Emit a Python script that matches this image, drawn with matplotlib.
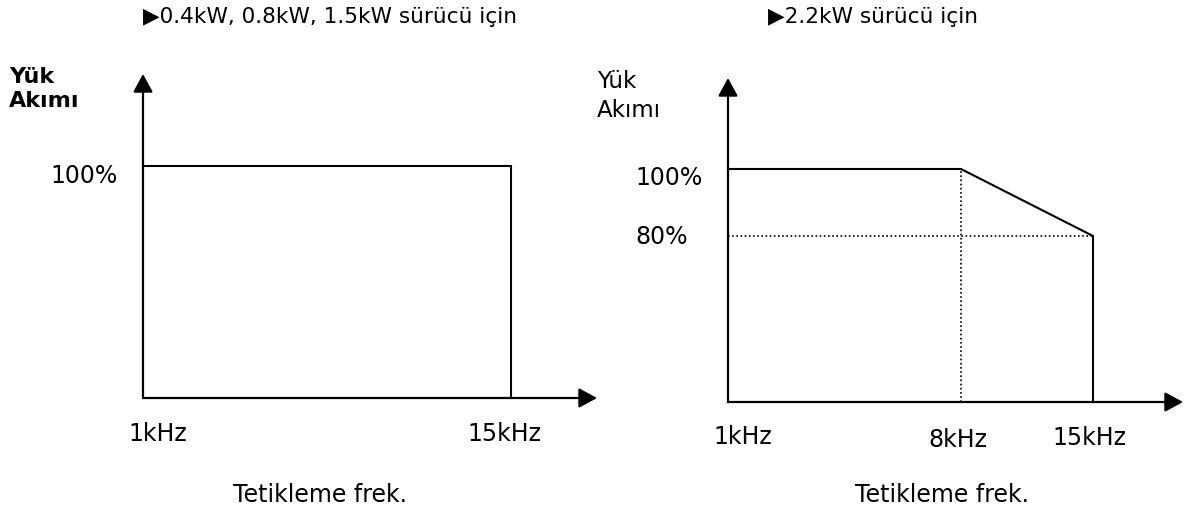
import numpy as np
import matplotlib.pyplot as plt

# Başlıklar
baslik_sol = '▶0.4kW, 0.8kW, 1.5kW sürücü için'
baslik_sag = '▶2.2kW sürücü için'

# Tetikleme frekansı (kHz) ve yük akımı (%)
frek_sol = [1, 15]
akim_sol = [100, 100]
frek_sag = [1, 8, 15]
akim_sag = [100, 100, 80]

etiket_sol = ['1kHz', '15kHz']
etiket_sag = ['1kHz', '8kHz', '15kHz']
yuzde_sol = [100]
yuzde_sag = [100, 80]

W, H = 1193, 524
fig = plt.figure(figsize=(W / 100, H / 100), dpi=100)
plt.rcParams['font.family'] = 'DejaVu Sans'
fs = 17
ok = dict(arrowstyle='-|>,head_length=0.55,head_width=0.3', color='black',
          lw=1.6, shrinkA=0, shrinkB=0, mutation_scale=20)


def eksen_kur(x0, x1, ytop, ybot):
    ax = fig.add_axes([x0 / W, 1 - ybot / H, (x1 - x0) / W, (ybot - ytop) / H])
    for s in ax.spines.values():
        s.set_visible(False)
    ax.set_xticks([])
    ax.set_yticks([])
    ax.patch.set_alpha(0)
    return ax


def oklar(ax, tipx, tipy):
    ax.annotate('', xy=(tipx, 0), xytext=(0, 0), xycoords='axes fraction',
                arrowprops=ok, annotation_clip=False)
    ax.annotate('', xy=(0, tipy), xytext=(0, 0), xycoords='axes fraction',
                arrowprops=ok, annotation_clip=False)


# ---- sol grafik ----
ax1 = eksen_kur(143, 511, 166, 398)
ax1.set_xlim(frek_sol[0], frek_sol[-1])
ax1.set_ylim(0, 100)
oklar(ax1, (597 - 143) / (511 - 143), (398 - 74) / (398 - 166))
ax1.plot(frek_sol + [frek_sol[-1]], akim_sol + [0], color='black', lw=1.5,
         clip_on=False, solid_joinstyle='miter')

for f, lbl, dx in zip(frek_sol, etiket_sol, [15, -7]):
    ax1.annotate(lbl, xy=(f, 0), xycoords=('data', 'axes fraction'),
                 xytext=(dx, -36), textcoords='offset pixels',
                 ha='center', va='center', fontsize=fs)
for v in yuzde_sol:
    ax1.annotate(f'{v}%', xy=(0, v), xycoords=('axes fraction', 'data'),
                 xytext=(-93, -10), textcoords='offset pixels',
                 ha='left', va='center', fontsize=fs)

# ---- sağ grafik (şematik, eşit aralıklı olmayan ölçek) ----
ax2 = eksen_kur(728, 1093, 169, 402)
xk, xp = frek_sag, [0, 233, 365]
yk, yp = [0, 80, 100], [0, 166, 233]
ax2.set_xscale('function', functions=(lambda v: np.interp(v, xk, xp),
                                      lambda p: np.interp(p, xp, xk)))
ax2.set_yscale('function', functions=(lambda v: np.interp(v, yk, yp),
                                      lambda p: np.interp(p, yp, yk)))
ax2.set_xlim(frek_sag[0], frek_sag[-1])
ax2.set_ylim(0, 100)
ax2.set_xticks([])
ax2.set_yticks([])
oklar(ax2, (1183 - 728) / (1093 - 728), (402 - 78) / (402 - 169))

ax2.plot(frek_sag + [frek_sag[-1]], akim_sag + [0], color='black', lw=1.5,
         clip_on=False, solid_joinstyle='miter')
ax2.plot([frek_sag[0], frek_sag[-1]], [akim_sag[-1], akim_sag[-1]],
         color='black', lw=1.2, ls=(0, (1, 1.5)))
ax2.plot([frek_sag[1], frek_sag[1]], [0, akim_sag[1]],
         color='black', lw=1.2, ls=(0, (1, 1.5)))

for f, lbl, dx, dy in zip(frek_sag, etiket_sag, [15, -3, -4], [-35, -38, -36]):
    ax2.annotate(lbl, xy=(f, 0), xycoords=('data', 'axes fraction'),
                 xytext=(dx, dy), textcoords='offset pixels',
                 ha='center', va='center', fontsize=fs)
for v, dy in zip(yuzde_sag, [-9, -1]):
    ax2.annotate(f'{v}%', xy=(0, v), xycoords=('axes fraction', 'data'),
                 xytext=(-93, dy), textcoords='offset pixels',
                 ha='left', va='center', fontsize=fs)

# ---- metinler ----
fig.text(143 / W, 1 - 17 / H, baslik_sol, ha='left', va='center', fontsize=15.6)
fig.text(768 / W, 1 - 17 / H, baslik_sag, ha='left', va='center', fontsize=15.6)

fig.text(9 / W, 1 - 83 / H, 'Yük', ha='left', va='baseline', fontsize=16, fontweight='bold')
fig.text(9 / W, 1 - 107 / H, 'Akımı', ha='left', va='baseline', fontsize=16, fontweight='bold')
fig.text(597 / W, 1 - 88 / H, 'Yük', ha='left', va='baseline', fontsize=16.5)
fig.text(597 / W, 1 - 117 / H, 'Akımı', ha='left', va='baseline', fontsize=16.5)

fig.text(320 / W, 1 - 495 / H, 'Tetikleme frek.', ha='center', va='center', fontsize=fs)
fig.text(942 / W, 1 - 495 / H, 'Tetikleme frek.', ha='center', va='center', fontsize=fs)

fig.savefig('out.png', dpi=100)
